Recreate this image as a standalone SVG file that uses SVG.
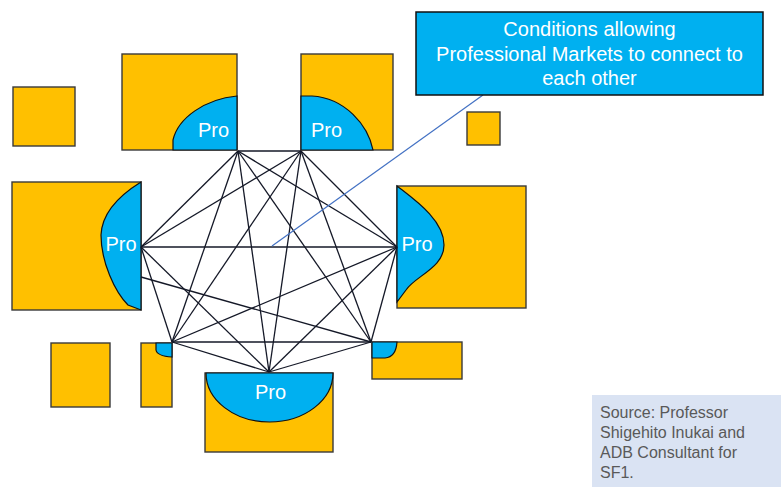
<svg xmlns="http://www.w3.org/2000/svg" width="781" height="487" viewBox="0 0 781 487">
<style>
.sq{fill:#FFC000;stroke:#3a3a3a;stroke-width:1.4}
.bl{fill:#00B0F0;stroke:#111;stroke-width:1.2}
.pro{font-family:"Liberation Sans",Arial,sans-serif;font-size:20px;fill:#fff;text-anchor:middle}
.cl{font-family:"Liberation Sans",Arial,sans-serif;font-size:20px;fill:#fff;text-anchor:middle}
.src{font-family:"Liberation Sans",Arial,sans-serif;font-size:16px;fill:#595959}
#connectors line{stroke:#141827;stroke-width:1.3}
</style>
<rect width="781" height="487" fill="#fff"/>
<g id="sq-topleft-small"><rect class="sq" x="13" y="87" width="62" height="59"/></g>
<g id="sq-right-small"><rect class="sq" x="467" y="112" width="33" height="33"/></g>
<g id="sq-bottom-small"><rect class="sq" x="51" y="343" width="59" height="64"/></g>
<g id="node-top-left">
<rect class="sq" x="122" y="54" width="115" height="96"/>
<path class="bl" d="M237,96 C205,99 178,118 173,140 L173,150 L237,150 Z"/>
<text class="pro" x="213.5" y="137">Pro</text>
</g>
<g id="node-top-right">
<rect class="sq" x="301" y="54" width="92" height="96"/>
<path class="bl" d="M301,96 L312,96 C345,98 368,125 373,150 L301,150 Z"/>
<text class="pro" x="326.5" y="137">Pro</text>
</g>
<g id="node-left">
<rect class="sq" x="12" y="182" width="129" height="128"/>
<path class="bl" d="M141,182 C120,195 102,212 101,235 C101,262 115,292 128,305 L141,310 Z"/>
<text class="pro" x="121" y="251">Pro</text>
</g>
<g id="node-right">
<rect class="sq" x="397" y="186" width="129" height="122"/>
<path class="bl" d="M397,186 C415,200 444,220 444,245 C444,268 415,276 406,290 L397,302 Z"/>
<text class="pro" x="417" y="251">Pro</text>
</g>
<g id="node-bottom-left">
<rect class="sq" x="141" y="343" width="31" height="64"/>
<path class="bl" d="M156,343 L156,350 Q157,356 172,357 L172,343 Z"/>
</g>
<g id="node-bottom-center">
<rect class="sq" x="205" y="373" width="128" height="79"/>
<path class="bl" d="M206,373 A63.5 49 0 0 0 333,373 Z"/>
<text class="pro" x="270.5" y="399">Pro</text>
</g>
<g id="node-bottom-right">
<rect class="sq" x="372" y="342" width="90" height="37"/>
<path class="bl" d="M372,342 L397,342 Q396,357 385,358 L372,358 Z"/>
</g>
<g id="connectors">
<line x1="238" y1="151" x2="301" y2="151"/>
<line x1="238" y1="151" x2="141" y2="247"/>
<line x1="238" y1="151" x2="397" y2="247"/>
<line x1="238" y1="151" x2="172" y2="342"/>
<line x1="238" y1="151" x2="269" y2="372"/>
<line x1="238" y1="151" x2="371" y2="342"/>
<line x1="301" y1="151" x2="141" y2="247"/>
<line x1="301" y1="151" x2="397" y2="247"/>
<line x1="301" y1="151" x2="172" y2="342"/>
<line x1="301" y1="151" x2="269" y2="372"/>
<line x1="301" y1="151" x2="371" y2="342"/>
<line x1="141" y1="247" x2="397" y2="247"/>
<line x1="141" y1="247" x2="172" y2="342"/>
<line x1="141" y1="247" x2="269" y2="372"/>
<line x1="141" y1="277" x2="371" y2="342"/>
<line x1="397" y1="247" x2="172" y2="342"/>
<line x1="397" y1="247" x2="269" y2="372"/>
<line x1="397" y1="247" x2="371" y2="342"/>
<line x1="172" y1="342" x2="269" y2="372"/>
<line x1="172" y1="342" x2="371" y2="342"/>
<line x1="269" y1="372" x2="371" y2="342"/>
</g>
<g id="callout">
<line x1="483" y1="95" x2="272" y2="246" stroke="#4472C4" stroke-width="1.2"/>
<rect x="416" y="12" width="347" height="83" fill="#00B0F0" stroke="#111" stroke-width="1.5"/>
<text class="cl" x="589.5" y="36">Conditions allowing</text>
<text class="cl" x="589.5" y="61">Professional Markets to connect to</text>
<text class="cl" x="589.5" y="85">each other</text>
</g>
<g id="source">
<rect x="592" y="395" width="189" height="92" fill="#DAE3F3"/>
<text class="src" x="600" y="418">Source: Professor</text>
<text class="src" x="600" y="438">Shigehito Inukai and</text>
<text class="src" x="600" y="458">ADB Consultant for</text>
<text class="src" x="600" y="478">SF1.</text>
</g>
</svg>
